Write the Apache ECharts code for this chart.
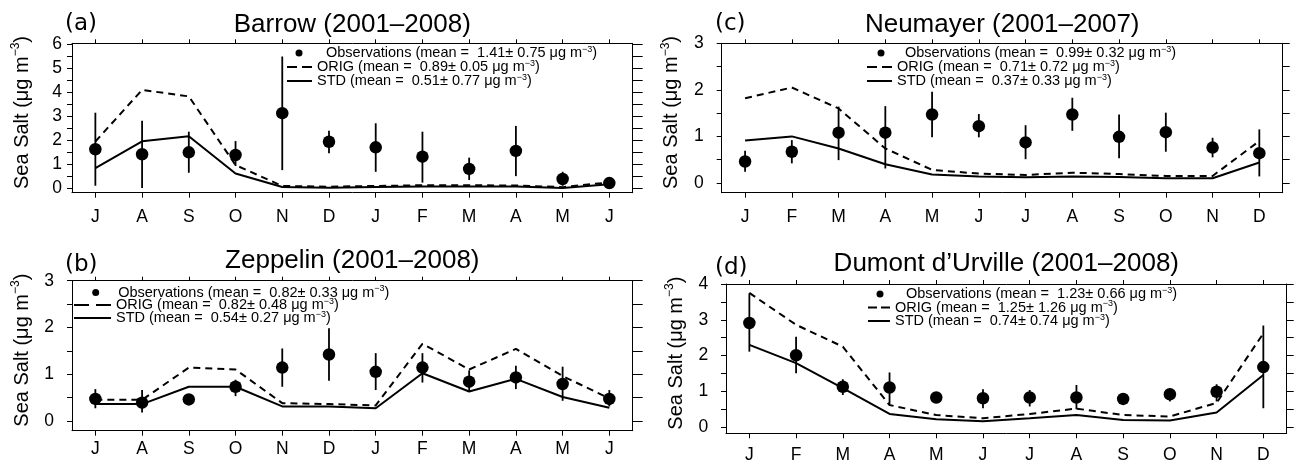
<!DOCTYPE html>
<html><head><meta charset="utf-8">
<script src="https://cdn.jsdelivr.net/npm/echarts@6/dist/echarts.min.js"></script>
<style>html,body{margin:0;padding:0;background:#fff}#chart{width:1294px;height:465px}</style>
</head><body><div id="chart"></div>
<script>
// ---------------- data ----------------
const monthsJulJun = ['J','A','S','O','N','D','J','F','M','A','M','J'];
const monthsJanDec = ['J','F','M','A','M','J','J','A','S','O','N','D'];

const titles = ['Barrow (2001\u20132008)', 'Zeppelin (2001\u20132008)', 'Neumayer (2001\u20132007)', 'Dumont d\u2019Urville (2001\u20132008)'];
const letters = ['(a)', '(b)', '(c)', '(d)'];
const yAxisName = 'Sea Salt (\u03bcg m\u207b\u00b3)';

// legend labels: Observations, ORIG, STD
const legendA = ['Observations (mean =  1.41\u00b1 0.75 \u03bcg m\u207b\u00b3)', 'ORIG (mean =  0.89\u00b1 0.05 \u03bcg m\u207b\u00b3)', 'STD (mean =  0.51\u00b1 0.77 \u03bcg m\u207b\u00b3)'];
const legendB = ['Observations (mean =  0.82\u00b1 0.33 \u03bcg m\u207b\u00b3)', 'ORIG (mean =  0.82\u00b1 0.48 \u03bcg m\u207b\u00b3)', 'STD (mean =  0.54\u00b1 0.27 \u03bcg m\u207b\u00b3)'];
const legendC = ['Observations (mean =  0.99\u00b1 0.32 \u03bcg m\u207b\u00b3)', 'ORIG (mean =  0.71\u00b1 0.72 \u03bcg m\u207b\u00b3)', 'STD (mean =  0.37\u00b1 0.33 \u03bcg m\u207b\u00b3)'];
const legendD = ['Observations (mean =  1.23\u00b1 0.66 \u03bcg m\u207b\u00b3)', 'ORIG (mean =  1.25\u00b1 1.26 \u03bcg m\u207b\u00b3)', 'STD (mean =  0.74\u00b1 0.74 \u03bcg m\u207b\u00b3)'];

// y tick labels and tick marks
const yLabelsA = [0, 1, 2, 3, 4, 5, 6];
const yTicksA = [0, 0.5, 1, 1.5, 2, 2.5, 3, 3.5, 4, 4.5, 5, 5.5, 6];
const yLabelsB = [0, 1, 2, 3];
const yTicksB = [0, 0.5, 1, 1.5, 2, 2.5, 3];
const yLabelsC = [0, 1, 2, 3];
const yTicksC = [0, 0.5, 1, 1.5, 2, 2.5, 3];
const yLabelsD = [0, 1, 2, 3, 4];
const yTicksD = [0, 0.5, 1, 1.5, 2, 2.5, 3, 3.5, 4];

// (a) Barrow
const obsA   = [1.63, 1.42, 1.50, 1.39, 3.13, 1.94, 1.71, 1.32, 0.81, 1.56, 0.39, 0.22];
const obsLoA = [0.11, 0.02, 0.65, 0.93, 0.76, 1.46, 0.69, 0.24, 0.35, 0.51, 0.11, 0.12];
const obsHiA = [3.15, 2.82, 2.36, 1.97, 5.49, 2.40, 2.71, 2.36, 1.28, 2.60, 0.69, 0.32];
const origA  = [1.95, 4.10, 3.83, 0.97, 0.10, 0.07, 0.10, 0.13, 0.13, 0.12, 0.05, 0.25];
const stdA   = [0.84, 1.96, 2.17, 0.62, 0.06, 0.03, 0.06, 0.08, 0.08, 0.08, 0.02, 0.17];

// (b) Zeppelin
const obsB   = [0.47, 0.39, 0.46, 0.73, 1.14, 1.42, 1.05, 1.14, 0.84, 0.93, 0.79, 0.47];
const obsLoB = [0.27, 0.18, 0.40, 0.53, 0.73, 0.86, 0.66, 0.82, 0.63, 0.68, 0.43, 0.31];
const obsHiB = [0.68, 0.66, 0.52, 0.88, 1.55, 1.98, 1.45, 1.45, 1.08, 1.18, 1.16, 0.66];
const origB  = [0.45, 0.45, 1.14, 1.10, 0.38, 0.36, 0.33, 1.65, 1.10, 1.54, 0.96, 0.48];
const stdB   = [0.36, 0.36, 0.73, 0.73, 0.31, 0.31, 0.27, 1.02, 0.63, 0.90, 0.51, 0.28];

// (c) Neumayer
const obsC   = [0.46, 0.67, 1.08, 1.08, 1.47, 1.22, 0.87, 1.47, 0.99, 1.09, 0.76, 0.64];
const obsLoC = [0.24, 0.42, 0.49, 0.31, 0.98, 0.98, 0.51, 1.12, 0.53, 0.67, 0.55, 0.14];
const obsHiC = [0.69, 0.92, 1.64, 1.65, 1.96, 1.48, 1.24, 1.83, 1.47, 1.51, 0.97, 1.15];
const origC  = [1.82, 2.05, 1.60, 0.74, 0.28, 0.20, 0.17, 0.22, 0.19, 0.15, 0.15, 0.90];
const stdC   = [0.91, 1.00, 0.74, 0.40, 0.18, 0.14, 0.12, 0.14, 0.13, 0.10, 0.10, 0.44];

// (d) Dumont d'Urville
const obsD   = [2.91, 2.01, 1.13, 1.11, 0.83, 0.81, 0.83, 0.83, 0.79, 0.92, 0.99, 1.68];
const obsLoD = [2.11, 1.51, 0.90, 0.65, 0.72, 0.53, 0.58, 0.50, 0.70, 0.72, 0.72, 0.53];
const obsHiD = [3.74, 2.53, 1.34, 1.53, 0.94, 1.06, 1.04, 1.18, 0.88, 1.09, 1.20, 2.84];
const origD  = [3.75, 2.86, 2.25, 0.62, 0.34, 0.25, 0.37, 0.52, 0.34, 0.30, 0.68, 2.62];
const stdD   = [2.30, 1.79, 1.09, 0.37, 0.22, 0.17, 0.25, 0.34, 0.20, 0.19, 0.41, 1.46];

// ---------------- layout ----------------
const FONT = "'Liberation Sans', Arial, Helvetica, sans-serif";
const panels = [
  { months: monthsJulJun, obs: obsA, lo: obsLoA, hi: obsHiA, orig: origA, std: stdA, legend: legendA, yLabels: yLabelsA, yTicks: yTicksA, title: titles[0], letter: letters[0],
    L: { grid: {left: 72, top: 43.3, width: 560.7, height: 149.4}, yMin: -0.18, yMax: 6.04, yLabelMargin: 10, xLabelMargin: 15, rTick: 10,
         title: {x: 352.3, y: 24.5}, letter: {x: 65, y: 24},
         lg: {obsLeft: 295.5, obsW: 44, lineLeft: 286, lineW: 25, rows: [53, 67, 81]} } },
  { months: monthsJulJun, obs: obsB, lo: obsLoB, hi: obsHiB, orig: origB, std: stdB, legend: legendB, yLabels: yLabelsB, yTicks: yTicksB, title: titles[1], letter: letters[1],
    L: { grid: {left: 72, top: 280.7, width: 560.7, height: 150}, yMin: -0.21, yMax: 3, yLabelMargin: 18, xLabelMargin: 9, rTick: 10,
         title: {x: 352.3, y: 261}, letter: {x: 65, y: 265},
         lg: {obsLeft: 92.2, obsW: 35, lineLeft: 73, lineW: 37, rows: [292.5, 305, 318]} } },
  { months: monthsJanDec, obs: obsC, lo: obsLoC, hi: obsHiC, orig: origC, std: stdC, legend: legendC, yLabels: yLabelsC, yTicks: yTicksC, title: titles[2], letter: letters[2],
    L: { grid: {left: 721.7, top: 43.3, width: 561, height: 149.4}, yMin: -0.21, yMax: 3, yLabelMargin: 18, xLabelMargin: 15, rTick: 7,
         title: {x: 1002.2, y: 24.5}, letter: {x: 715, y: 24},
         lg: {obsLeft: 877.5, obsW: 38, lineLeft: 866, lineW: 25, rows: [53, 67, 81]} } },
  { months: monthsJanDec, obs: obsD, lo: obsLoD, hi: obsHiD, orig: origD, std: stdD, legend: legendD, yLabels: yLabelsD, yTicks: yTicksD, title: titles[3], letter: letters[3],
    L: { grid: {left: 726, top: 284, width: 560.7, height: 149.3}, yMin: -0.17, yMax: 4, yLabelMargin: 17.7, xLabelMargin: 12.5, rTick: 7,
         title: {x: 1006.3, y: 264}, letter: {x: 715, y: 268},
         lg: {obsLeft: 876.5, obsW: 42, lineLeft: 867, lineW: 22, rows: [294, 307.5, 321]} } }
];

function supRich(name, cls) {
  const parts = name.split('\u207b\u00b3');
  return '{' + cls + '|' + parts[0] + '}{s|\u22123}{' + cls + '|' + parts[1] + '}';
}

function renderErr(params, api) {
  const x = api.value(0);
  const p1 = api.coord([x, api.value(1)]);
  const p2 = api.coord([x, api.value(2)]);
  return { type: 'line', shape: {x1: p1[0], y1: p1[1], x2: p2[0], y2: p2[1]},
           style: {stroke: '#000', lineWidth: 1.8} };
}

const option = { animation: false, backgroundColor: '#fff', title: [], grid: [], xAxis: [], yAxis: [], series: [], legend: [] };
const axisLine = { show: true, onZero: false, lineStyle: { color: '#000', width: 1 } };

panels.forEach((p, k) => {
  const L = p.L;
  option.grid.push(Object.assign({containLabel: false}, L.grid));
  option.title.push({ text: p.title, left: L.title.x, top: L.title.y - 15, textAlign: 'center', padding: 0,
    textStyle: { fontFamily: FONT, fontSize: 26, fontWeight: 'normal', color: '#000', lineHeight: 30 } });
  option.title.push({ text: p.letter, left: L.letter.x, top: L.letter.y - 15, padding: 0,
    textStyle: { fontFamily: "'DejaVu Sans', " + FONT, fontSize: 23, fontWeight: 'normal', color: '#000', lineHeight: 30 } });
  // bottom & top x axes
  option.xAxis.push({ type: 'category', gridIndex: k, data: p.months, boundaryGap: true, position: 'bottom',
    axisLine: axisLine, axisTick: { show: true, alignWithLabel: true, inside: false, length: 5, lineStyle: {color: '#000'} },
    axisLabel: { show: true, interval: 0, margin: L.xLabelMargin, fontFamily: FONT, fontSize: 17.5, color: '#000' },
    splitLine: { show: false } });
  option.xAxis.push({ type: 'category', gridIndex: k, data: p.months, boundaryGap: true, position: 'top',
    axisLine: axisLine, axisTick: { show: true, alignWithLabel: true, inside: false, length: 4, lineStyle: {color: '#000'} },
    axisLabel: { show: false }, splitLine: { show: false } });
  // left & right y axes
  option.yAxis.push({ type: 'value', gridIndex: k, min: L.yMin, max: L.yMax, position: 'left',
    axisLine: axisLine,
    axisTick: { show: true, inside: false, length: 5, customValues: p.yTicks, lineStyle: {color: '#000'} },
    axisLabel: { show: true, customValues: p.yLabels, margin: L.yLabelMargin, fontFamily: FONT, fontSize: 17.5, color: '#000' },
    splitLine: { show: false },
    name: supRich(yAxisName, 'n'), nameLocation: 'middle', nameGap: 38, nameRotate: 90,
    nameTextStyle: { padding: [0, 0, 0, 11], rich: {
      n: { fontFamily: FONT, fontSize: 20, color: '#000', lineHeight: 24 },
      s: { fontFamily: FONT, fontSize: 12, color: '#000', lineHeight: 12, verticalAlign: 'top' } } } });
  option.yAxis.push({ type: 'value', gridIndex: k, min: L.yMin, max: L.yMax, position: 'right',
    axisLine: axisLine,
    axisTick: { show: true, inside: false, length: L.rTick, customValues: p.yTicks, lineStyle: {color: '#000'} },
    axisLabel: { show: false }, splitLine: { show: false } });

  const xi = 2 * k, yi = 2 * k;
  const [nObs, nOrig, nStd] = p.legend;
  option.series.push({ type: 'line', name: nOrig, xAxisIndex: xi, yAxisIndex: yi, data: p.orig, symbol: 'none', z: 2,
    lineStyle: { color: '#000', width: 2, type: [7, 5] }, itemStyle: {color: '#000'} });
  option.series.push({ type: 'line', name: nStd, xAxisIndex: xi, yAxisIndex: yi, data: p.std, symbol: 'none', z: 2,
    lineStyle: { color: '#000', width: 2, type: 'solid' }, itemStyle: {color: '#000'} });
  option.series.push({ type: 'custom', name: 'err' + k, xAxisIndex: xi, yAxisIndex: yi, z: 3,
    renderItem: renderErr, encode: { x: 0, y: [1, 2] },
    data: p.lo.map((v, i) => [i, v, p.hi[i]]) });
  option.series.push({ type: 'scatter', name: nObs, xAxisIndex: xi, yAxisIndex: yi, data: p.obs, z: 4,
    symbol: 'circle', symbolSize: 12.5, itemStyle: { color: '#000', opacity: 1 } });

  const lg = L.lg;
  const textStyle = { rich: {
    t: { fontFamily: FONT, fontSize: 14.5, color: '#000', lineHeight: 16 },
    s: { fontFamily: FONT, fontSize: 9, color: '#000', lineHeight: 10, verticalAlign: 'top' } } };
  const fmt = (name) => supRich(name, 't');
  const hiddenSym = { color: 'rgba(0,0,0,0)', borderColor: 'rgba(0,0,0,0)', borderWidth: 0, opacity: 0 };
  const dashLen = Math.round(lg.lineW * 0.4);
  option.legend.push({ data: [{name: nObs, icon: 'circle'}], left: lg.obsLeft, top: lg.rows[0] - 8, padding: 0,
    itemWidth: lg.obsW, itemHeight: 7, symbolKeepAspect: true, formatter: fmt, textStyle: textStyle, selectedMode: false,
    itemStyle: { color: '#000', opacity: 1 } });
  option.legend.push({ data: [nOrig], left: lg.lineLeft, top: lg.rows[1] - 8, padding: 0,
    itemWidth: lg.lineW, itemHeight: 0.5, formatter: fmt, textStyle: textStyle, selectedMode: false, itemStyle: hiddenSym,
    lineStyle: { color: '#000', width: 2, type: [dashLen, lg.lineW - 2 * dashLen] } });
  option.legend.push({ data: [nStd], left: lg.lineLeft, top: lg.rows[2] - 8, padding: 0,
    itemWidth: lg.lineW, itemHeight: 0.5, formatter: fmt, textStyle: textStyle, selectedMode: false, itemStyle: hiddenSym });
});

const chart = echarts.init(document.getElementById('chart'), null, { renderer: 'canvas' });
chart.setOption(option);
</script>
</body></html>
